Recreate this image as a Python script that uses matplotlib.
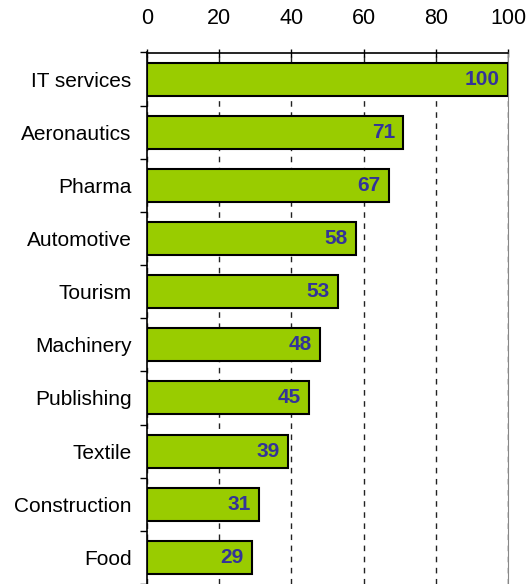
import numpy as np
import matplotlib.pyplot as plt

# Index by sector (IT services = 100)
sectors = ['IT services', 'Aeronautics', 'Pharma', 'Automotive', 'Tourism',
           'Machinery', 'Publishing', 'Textile', 'Construction', 'Food']
index_values = [100, 71, 67, 58, 53, 48, 45, 39, 31, 29]
x_ticks = [0, 20, 40, 60, 80, 100]

plt.rcParams['font.family'] = ['Liberation Sans', 'DejaVu Sans']

fig = plt.figure(figsize=(5.27, 5.84), dpi=100)
ax = fig.add_axes([147 / 527, 0.0, (508 - 147) / 527, (584 - 52.5) / 584])

y = np.arange(len(sectors))
ax.barh(y, index_values, height=0.62, color='#99CC00', edgecolor='black',
        linewidth=1.5, zorder=3)

for yi, v in zip(y, index_values):
    ax.annotate(str(v), (v, yi), xytext=(-6, 0), textcoords='offset points',
                ha='right', va='center', fontsize=15, fontweight='bold',
                color='#333399', zorder=4)

ax.set_xlim(0, 100)
ax.set_ylim(len(sectors) - 0.5, -0.5)

ax.xaxis.tick_top()
ax.set_xticks(x_ticks)
ax.tick_params(axis='x', direction='inout', length=6, width=1, pad=14,
               labelsize=15.5)
ax.grid(axis='x', color='#222222', linestyle=(0, (4, 4)), linewidth=1)
ax.set_axisbelow(True)

ax.set_yticks(y)
ax.set_yticklabels(sectors, fontsize=15)
ax.set_yticks(np.arange(-0.5, len(sectors), 1), minor=True)
ax.tick_params(axis='y', which='major', length=0, pad=11)
ax.tick_params(axis='y', which='minor', direction='out', length=5, width=1)

ax.spines['bottom'].set_visible(False)
ax.spines['right'].set_color('#888888')
ax.spines['top'].set_linewidth(1.2)
ax.spines['left'].set_linewidth(1.2)

fig.savefig('out.png', dpi=100)
